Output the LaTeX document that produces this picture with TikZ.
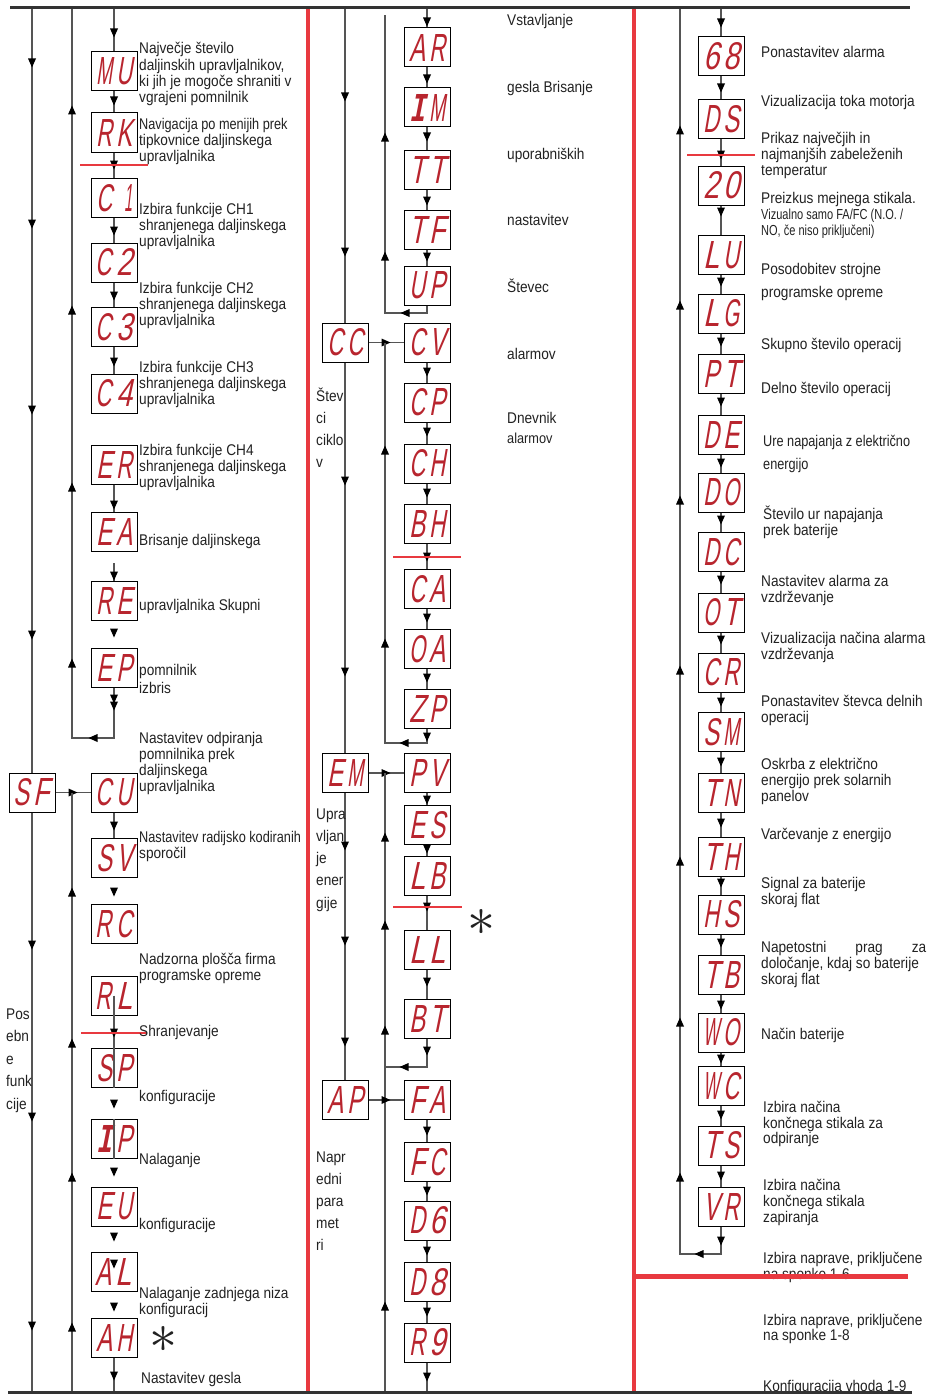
\documentclass[tikz,border=0pt]{standalone}
\usepackage{fontspec}
\setmainfont{Liberation Sans}[FakeStretch=0.88]
\newfontfamily\segf{Liberation Sans}[FakeSlant=0.3]
\newfontfamily\segm{Liberation Mono}[FakeSlant=0.3]
\newfontfamily\nrw{Liberation Sans}[FakeStretch=0.76]
\newfontfamily\nrwb{Liberation Sans}[FakeStretch=0.82]
\usepackage{graphicx}
\definecolor{segred}{HTML}{B8252E}
\definecolor{lred}{HTML}{E8393F}
\definecolor{lgray}{HTML}{555555}
\definecolor{ink}{HTML}{222222}
\makeatletter
\newcommand\ml[2][16]{{\fontsize{\f@size}{#1}\selectfont\begin{tabular}[t]{@{}l@{}}#2\end{tabular}}}
\makeatother
\newcommand\sgc[1]{\resizebox{16pt}{27pt}{#1}}
\newcommand\seg[2]{{\segf\color{segred}\sgc{#1}\hspace{4pt}\sgc{#2}}}
\newcommand\segI[1]{{\color{segred}\sgc{\segm\bfseries I}\hspace{4pt}\sgc{\segf #1}}}
\newcommand\D[2]{\pic at (#1,#2) {dnar};}
\newcommand\U[2]{\pic at (#1,#2) {upar};}
\newcommand\Lf[2]{\pic at (#1,#2) {lfar};}
\newcommand\Rt[2]{\pic at (#1,#2) {rtar};}
\tikzset{
 dnar/.pic={\fill[black] (-4,-4.5)--(4,-4.5)--(0,4.5)--cycle;},
 upar/.pic={\fill[black] (-4,4.5)--(4,4.5)--(0,-4.5)--cycle;},
 lfar/.pic={\fill[black] (4.5,-4)--(4.5,4)--(-4.5,0)--cycle;},
 rtar/.pic={\fill[black] (-4.5,-4)--(-4.5,4)--(4.5,0)--cycle;},
 disp/.style={draw=black, line width=1pt, fill=white, minimum width=46pt, minimum height=39pt, inner sep=0pt},
 conn/.style={draw=lgray, line width=1.2pt},
 txt/.style={anchor=base west, inner sep=0pt, text=ink, font=\fontsize{15.5}{16}\selectfont},
 redl/.style={draw=lred, line width=1.6pt},
 star/.style={inner sep=0pt, text=ink}
}
\begin{document}
\begin{tikzpicture}[x=1pt,y=-1pt]
\useasboundingbox (0,0) rectangle (928,1394);
\fill[white] (0,0) rectangle (928,1394);

% ================= column 1 =================
\node[disp] (mu) at (114,71.5) {\seg{M}{U}};
\node[disp] (rk) at (114,132.5) {\seg{R}{K}};
\node[disp] (c1) at (114,198) {{\segf\color{segred}\sgc{C}\hspace{12pt}\resizebox{8pt}{27pt}{1}}};
\node[disp] (c2) at (114,262.5) {\seg{C}{2}};
\node[disp] (c3) at (114,327) {\seg{C}{3}};
\node[disp] (c4) at (114,393.5) {\seg{C}{4}};
\node[disp] (er) at (114,464.5) {\seg{E}{R}};
\node[disp] (ea) at (114,531.5) {\seg{E}{A}};
\node[disp] (re) at (114,600.5) {\seg{R}{E}};
\node[disp] (ep) at (114,667.5) {\seg{E}{P}};
\node[disp] (cu) at (114,792.5) {\seg{C}{U}};
\node[disp] (sv) at (114,858) {\seg{S}{V}};
\node[disp] (rc) at (114,924) {\seg{R}{C}};
\node[disp] (rl) at (114,995.5) {\seg{R}{L}};
\node[disp] (sp) at (114,1068) {\seg{S}{P}};
\node[disp] (ip) at (114,1139) {\segI{P}};
\node[disp] (eu) at (114,1206.5) {\seg{E}{U}};
\node[disp] (al) at (114,1271.5) {\seg{A}{L}};
\node[disp] (ah) at (114,1338) {\seg{A}{H}};
\node[disp] (sf) at (32,792.5) {\seg{S}{F}};

\coordinate (t1) at (114,8);
\draw[conn] (t1) -- (mu); \D{114}{33}
\draw[conn] (mu) -- (rk); \D{114}{101}
\draw[conn] (rk) -- (c1); \D{114}{165}
\draw[conn] (c1) -- (c2); \D{114}{231}
\draw[conn] (c2) -- (c3); \D{114}{296}
\draw[conn] (c3) -- (c4); \D{114}{362}
\draw[conn] (er.south) -- (ea); \D{114}{505}
\coordinate (ea1) at (114,563);
\draw[conn] (ea1) -- (re); \D{114}{576}
\D{114}{633}
\coordinate (c1a) at (114,738); \coordinate (c1b) at (72,738); \coordinate (c1c) at (72,8);
\draw[conn] (ep) -- (c1a) -- (c1b) -- (c1c);
\D{114}{699}\D{114}{706}\Lf{93}{738}
\U{72}{110}\U{72}{310}\U{72}{487}\U{72}{663}
\coordinate (a0) at (32,8); \coordinate (a1) at (32,1392);
\draw[conn] (a0) -- (sf); \draw[conn] (sf) -- (a1);
\D{32}{63}\D{32}{224}\D{32}{410}\D{32}{635}\D{32}{945}\D{32}{1117}\D{32}{1326}
\draw[conn] (sf) -- (cu); \Rt{73}{792.5}
\coordinate (b1) at (72,792.5); \coordinate (b2) at (72,1392);
\draw[conn] (b1) -- (b2);
\U{72}{892}\U{72}{1043}\U{72}{1177}\U{72}{1327}
\draw[conn] (cu) -- (sv); \D{114}{826}
\D{114}{892}
\draw[conn] (rl.center) -- (sp.south); \D{114}{1033}
\draw[conn] (ip.north) -- (ip.south);
\D{114}{1104}\D{114}{1172}\D{114}{1237}\D{114}{1264}\D{114}{1307}
\coordinate (b3) at (114,1392);
\draw[conn] (ah) -- (b3); \D{114}{1376}
\draw[redl] (80,165) -- (148,165);
\draw[redl] (81,1033) -- (147,1033);

\node[txt] (t01) at (139,54) {\ml{Največje število\\daljinskih upravljalnikov,\\ki jih je mogoče shraniti v\\vgrajeni pomnilnik}};
\node[txt] (t02) at (139,129) {\ml{{\nrwb Navigacija po menijih prek}\\tipkovnice daljinskega\\upravljalnika}};
\node[txt] (t03) at (139,214) {\ml{Izbira funkcije CH1\\shranjenega daljinskega\\upravljalnika}};
\node[txt] (t04) at (139,293) {\ml{Izbira funkcije CH2\\shranjenega daljinskega\\upravljalnika}};
\node[txt] (t05) at (139,372) {\ml{Izbira funkcije CH3\\shranjenega daljinskega\\upravljalnika}};
\node[txt] (t06) at (139,455) {\ml{Izbira funkcije CH4\\shranjenega daljinskega\\upravljalnika}};
\node[txt] (t07) at (139,545) {Brisanje daljinskega};
\node[txt] (t08) at (139,610) {upravljalnika Skupni};
\node[txt] (t09) at (139,675) {\ml[18]{pomnilnik\\izbris}};
\node[txt] (t10) at (139,743) {\ml{Nastavitev odpiranja\\pomnilnika prek\\daljinskega\\upravljalnika}};
\node[txt] (t11) at (139,842) {\ml{{\nrwb Nastavitev radijsko kodiranih}\\sporočil}};
\node[txt] (t12) at (139,964) {\ml{Nadzorna plošča firma\\programske opreme}};
\node[txt] (t13) at (139,1036) {Shranjevanje};
\node[txt] (t14) at (139,1101) {konfiguracije};
\node[txt] (t15) at (139,1164) {Nalaganje};
\node[txt] (t16) at (139,1229) {konfiguracije};
\node[txt] (t17) at (139,1298) {\ml{Nalaganje zadnjega niza\\konfiguracij}};
\node[txt] (t18) at (141,1383) {Nastavitev gesla};
\node[txt] (s1) at (6,1019) {\ml[22.5]{Pos\\ebn\\e\\funk\\cije}};
\node[star] (st1) at (163,1352) {\smash{\scalebox{5.6}{$\ast$}}};

% ================= column 2 =================
\node[disp] (ar) at (427,47.5) {\seg{A}{R}};
\node[disp] (im) at (427,107.5) {\segI{M}};
\node[disp] (tt) at (427,169.5) {\seg{T}{T}};
\node[disp] (tf) at (427,229.5) {\seg{T}{F}};
\node[disp] (up) at (427,285.5) {\seg{U}{P}};
\node[disp] (cv) at (427,342.5) {\seg{C}{V}};
\node[disp] (cp) at (427,402.5) {\seg{C}{P}};
\node[disp] (ch) at (427,463.5) {\seg{C}{H}};
\node[disp] (bh) at (427,523.5) {\seg{B}{H}};
\node[disp] (ca) at (427,589) {\seg{C}{A}};
\node[disp] (oa) at (427,649) {\seg{O}{A}};
\node[disp] (zp) at (427,709) {\seg{Z}{P}};
\node[disp] (pv) at (427,773) {\seg{P}{V}};
\node[disp] (es) at (427,825) {\seg{E}{S}};
\node[disp] (lb) at (427,875.5) {\seg{L}{B}};
\node[disp] (ll) at (427,949.5) {\seg{L}{L}};
\node[disp] (bt) at (427,1018.5) {\seg{B}{T}};
\node[disp] (fa) at (427,1100) {\seg{F}{A}};
\node[disp] (fc) at (427,1162) {\seg{F}{C}};
\node[disp] (d6) at (427,1220.5) {\seg{D}{6}};
\node[disp] (d8) at (427,1282) {\seg{D}{8}};
\node[disp] (r9) at (427,1342.5) {\seg{R}{9}};
\node[disp] (cc) at (345,342.5) {\seg{C}{C}};
\node[disp] (em) at (345,773) {\seg{E}{M}};
\node[disp] (ap) at (345,1100) {\seg{A}{P}};

\coordinate (t2) at (427,8);
\draw[conn] (t2) -- (ar); \D{427}{22}
\draw[conn] (ar) -- (im); \D{427}{79}
\draw[conn] (im) -- (tt); \D{427}{137}
\draw[conn] (tt) -- (tf); \D{427}{201}
\draw[conn] (tf) -- (up); \D{427}{257}
\coordinate (u1) at (427,313); \coordinate (u2) at (385,313); \coordinate (u3) at (385,15);
\draw[conn] (up) -- (u1) -- (u2) -- (u3); \Lf{405}{313}
\U{385}{137}\U{385}{256}
\draw[conn] (cc) -- (cv); \Rt{386}{342.5}
\coordinate (v1) at (385,342.5); \coordinate (v2) at (385,743); \coordinate (v3) at (427,743);
\draw[conn] (v1) -- (v2) -- (v3) -- (zp);
\Lf{404}{743}\D{427}{737}\U{385}{450}\U{385}{643}
\draw[conn] (cv) -- (cp); \D{427}{372}
\draw[conn] (cp) -- (ch); \D{427}{432}
\draw[conn] (ch) -- (bh); \D{427}{493}
\draw[conn] (bh) -- (ca); \D{427}{557}
\draw[conn] (ca) -- (oa); \D{427}{618}
\draw[conn] (oa) -- (zp); \D{427}{678}
\draw[conn] (em) -- (pv); \Rt{386}{773}
\coordinate (w1) at (385,773); \coordinate (w2) at (385,1392); \coordinate (w3) at (385,1067); \coordinate (w4) at (427,1067);
\draw[conn] (w1) -- (w2);
\draw[conn] (bt) -- (w4) -- (w3);
\D{427}{1051}\Lf{404}{1067}
\U{385}{837}\U{385}{925}\U{385}{1030}\U{385}{1306}
\draw[conn] (pv) -- (es); \D{427}{800}
\draw[conn] (es) -- (lb); \D{427}{849}
\draw[conn] (lb) -- (ll); \D{427}{907}
\draw[conn] (ll) -- (bt); \D{427}{982}
\draw[conn] (ap) -- (fa); \Rt{386}{1100}
\draw[conn] (fa) -- (fc); \D{427}{1131}
\draw[conn] (fc) -- (d6); \D{427}{1191}
\draw[conn] (d6) -- (d8); \D{427}{1251}
\draw[conn] (d8) -- (r9); \D{427}{1312}
\coordinate (r9b) at (427,1392);
\draw[conn] (r9) -- (r9b); \D{427}{1377}
\coordinate (k0) at (345,8);
\draw[conn] (k0) -- (cc); \D{345}{97}\D{345}{252}
\draw[conn] (cc) -- (em); \D{345}{481}\D{345}{672}
\draw[conn] (em) -- (ap); \D{345}{846}\D{345}{941}\D{345}{1042}
\draw[redl] (393,557) -- (461,557);
\draw[redl] (393,907) -- (462,907);

\node[txt] (u01) at (507,26) {Vstavljanje};
\node[txt] (u02) at (507,93) {gesla Brisanje};
\node[txt] (u03) at (507,159) {uporabniških};
\node[txt] (u04) at (507,225) {nastavitev};
\node[txt] (u05) at (507,292) {Števec};
\node[txt] (u06) at (507,359) {alarmov};
\node[txt] (u07) at (507,423) {\ml[20]{Dnevnik\\{\fontsize{14.5}{20}\selectfont alarmov}}};
\node[txt] (s2) at (316,401) {\ml[22]{Štev\\ci\\ciklo\\v}};
\node[txt] (s3) at (316,819) {\ml[22.3]{Upra\\vljan\\je\\ener\\gije}};
\node[txt] (s4) at (316,1162) {\ml[22]{Napr\\edni\\para\\met\\ri}};
\node[star] (st2) at (481,935) {\smash{\scalebox{5.6}{$\ast$}}};

% ================= column 3 =================
\node[disp] (g68) at (721,56.5) {\seg{6}{8}};
\node[disp] (ds) at (721,119.5) {\seg{D}{S}};
\node[disp] (g20) at (721,185.5) {\seg{2}{0}};
\node[disp] (lu) at (721,255) {\seg{L}{U}};
\node[disp] (lg) at (721,313.5) {\seg{L}{G}};
\node[disp] (pt) at (721,374) {\seg{P}{T}};
\node[disp] (de) at (721,435) {\seg{D}{E}};
\node[disp] (do) at (721,492.5) {\seg{D}{O}};
\node[disp] (dc) at (721,552) {\seg{D}{C}};
\node[disp] (ot) at (721,612.5) {\seg{O}{T}};
\node[disp] (cr) at (721,672.5) {\seg{C}{R}};
\node[disp] (sm) at (721,732) {\seg{S}{M}};
\node[disp] (tn) at (721,792.5) {\seg{T}{N}};
\node[disp] (th) at (721,856.5) {\seg{T}{H}};
\node[disp] (hs) at (721,914.5) {\seg{H}{S}};
\node[disp] (tb) at (721,974.5) {\seg{T}{B}};
\node[disp] (wo) at (721,1032.5) {\seg{W}{O}};
\node[disp] (wc) at (721,1086) {\seg{W}{C}};
\node[disp] (ts) at (721,1145.5) {\seg{T}{S}};
\node[disp] (vr) at (721,1206.5) {\seg{V}{R}};

\coordinate (t3) at (721,8);
\draw[conn] (t3) -- (g68); \D{721}{23}
\draw[conn] (g68) -- (ds); \D{721}{88}
\draw[conn] (ds) -- (g20); \D{721}{155}
\draw[conn] (g20) -- (lu); \D{721}{212}
\draw[conn] (lu) -- (lg); \D{721}{282}
\draw[conn] (lg) -- (pt); \D{721}{342}
\draw[conn] (pt) -- (de); \D{721}{402}
\draw[conn] (de) -- (do); \D{721}{463}
\draw[conn] (do) -- (dc); \D{721}{520}
\draw[conn] (dc) -- (ot); \D{721}{580}
\draw[conn] (ot) -- (cr); \D{721}{640}
\draw[conn] (cr) -- (sm); \D{721}{702}
\draw[conn] (sm) -- (tn); \D{721}{762}
\draw[conn] (tn) -- (th); \D{721}{823}
\draw[conn] (th) -- (hs); \D{721}{883}
\draw[conn] (hs) -- (tb); \D{721}{943}
\draw[conn] (tb) -- (wo); \D{721}{1005}
\draw[conn] (wo) -- (wc); \D{721}{1059}
\draw[conn] (wc) -- (ts); \D{721}{1115}
\draw[conn] (ts) -- (vr); \D{721}{1176}
\coordinate (e1) at (721,1254); \coordinate (e2) at (680,1254); \coordinate (e3) at (680,8);
\draw[conn] (vr) -- (e1) -- (e2) -- (e3);
\D{721}{1241}\Lf{699}{1254}
\U{680}{130}\U{680}{305}\U{680}{500}\U{680}{670}\U{680}{861}\U{680}{1022}\U{680}{1177}
\draw[redl] (687,155) -- (755,155);

\node[txt] (r01) at (761,58) {Ponastavitev alarma};
\node[txt] (r02) at (761,107) {Vizualizacija toka motorja};
\node[txt] (r03) at (761,143) {\ml[16.3]{Prikaz največjih in\\najmanjših zabeleženih\\temperatur}};
\node[txt] (r04) at (761,203) {\ml[16]{Preizkus mejnega stikala.\\{\nrw\fontsize{14.5}{16}\selectfont Vizualno samo FA/FC (N.O. /}\\{\nrw\fontsize{14.5}{16}\selectfont NO, če niso priključeni)}}};
\node[txt] (r05) at (761,274) {\ml[23]{Posodobitev strojne\\programske opreme}};
\node[txt] (r06) at (761,349) {Skupno število operacij};
\node[txt] (r07) at (761,393) {Delno število operacij};
\node[txt] (r08) at (763,446) {\ml[23]{{\nrwb Ure napajanja z električno}\\{\nrwb energijo}}};
\node[txt] (r09) at (763,519) {\ml[16]{Število ur napajanja\\prek baterije}};
\node[txt] (r10) at (761,586) {\ml[16]{Nastavitev alarma za\\vzdrževanje}};
\node[txt] (r11) at (761,643) {\ml[16]{Vizualizacija načina alarma\\vzdrževanja}};
\node[txt] (r12) at (761,706) {\ml[16]{Ponastavitev števca delnih\\operacij}};
\node[txt] (r13) at (761,769) {\ml[16]{Oskrba z električno\\energijo prek solarnih\\panelov}};
\node[txt] (r14) at (761,839) {Varčevanje z energijo};
\node[txt] (r15) at (761,888) {\ml[16]{Signal za baterije\\skoraj flat}};
\node[txt] (r16) at (761,952) {\ml[16]{\makebox[165pt][s]{Napetostni\hfill prag\hfill za}\\določanje, kdaj so baterije\\skoraj flat}};
\node[txt] (r17) at (761,1039) {Način baterije};
\node[txt] (r18) at (763,1112) {\ml[15.7]{Izbira načina\\končnega stikala za\\odpiranje}};
\node[txt] (r19) at (763,1190) {\ml[16]{Izbira načina\\končnega stikala\\zapiranja}};
\node[txt] (r20) at (763,1263) {\ml[16]{Izbira naprave, priključene\\na sponke 1-6}};
\node[txt] (r21) at (763,1325) {\ml[15.5]{Izbira naprave, priključene\\na sponke 1-8}};
\node[txt] (r22) at (763,1391) {Konfiguracija vhoda 1-9};

% ================= frame lines =================
\draw[draw=lred, line width=4pt] (308,8) -- (308,1392);
\draw[draw=lred, line width=4pt] (634,8) -- (634,1392);
\draw[draw=lred, line width=5pt] (634,1276) -- (908,1276);
\draw[draw=black!80, line width=3pt] (10,8) -- (910,8);
\draw[draw=black!80, line width=3pt] (8,1392) -- (912,1392);
\end{tikzpicture}
\end{document}
